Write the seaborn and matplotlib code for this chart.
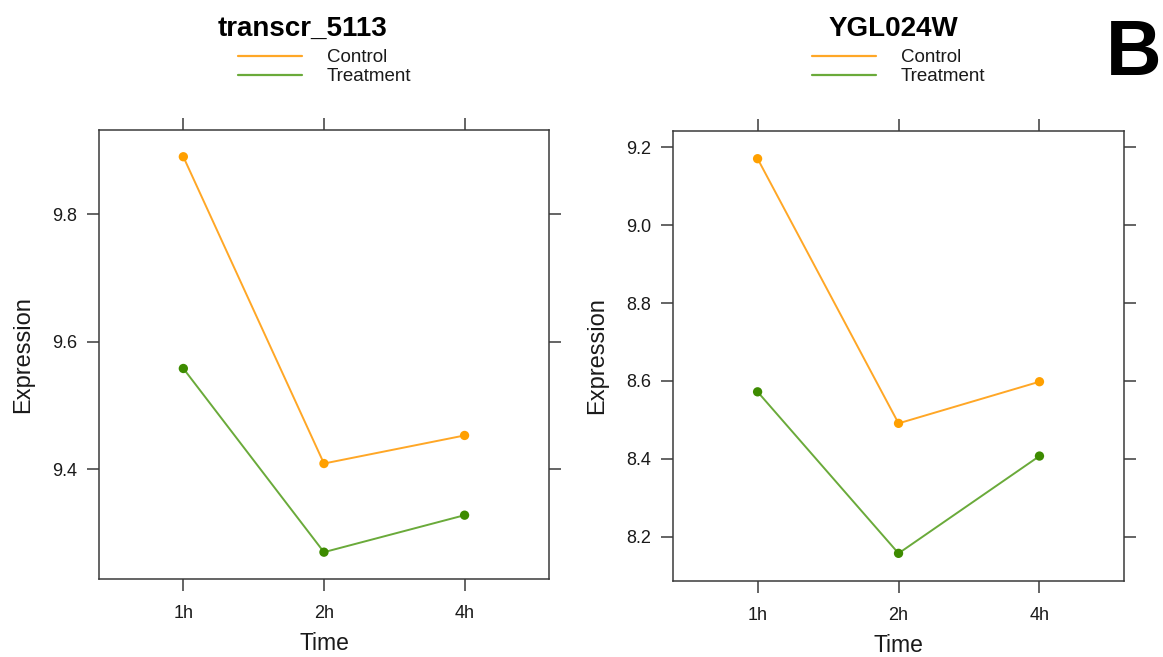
import numpy as np
import pandas as pd
import matplotlib.pyplot as plt
import seaborn as sns
from matplotlib.lines import Line2D

# ================================= #
# data
# ================================= #
times = ['1h', '2h', '4h']
groups = ['Control', 'Treatment']
genes = ['transcr_5113', 'YGL024W']

transcr_control = [9.890, 9.409, 9.453]
transcr_treatment = [9.558, 9.270, 9.328]
ygl_control = [9.171, 8.491, 8.598]
ygl_treatment = [8.572, 8.157, 8.407]

yticks_left = [9.4, 9.6, 9.8]
yticks_right = [8.2, 8.4, 8.6, 8.8, 9.0, 9.2]

rows = []
for gene, ctrl, trt in [(genes[0], transcr_control, transcr_treatment),
                        (genes[1], ygl_control, ygl_treatment)]:
    for t, c, tr in zip(times, ctrl, trt):
        rows.append({'gene': gene, 'Time': t, 'group': 'Control', 'Expression': c})
        rows.append({'gene': gene, 'Time': t, 'group': 'Treatment', 'Expression': tr})
df = pd.DataFrame(rows)

line_pal = {'Control': '#FFA726', 'Treatment': '#6AAA3A'}
point_pal = {'Control': '#FFA000', 'Treatment': '#3D8B00'}

sns.set_style('white')
plt.rcParams['font.family'] = ['Liberation Sans', 'DejaVu Sans']
edge = '#3a3a3a'
txt = '#1a1a1a'

fig = plt.figure(figsize=(11.63, 6.57), dpi=100)
ax_pos = [[0.0851, 0.1183, 0.3869, 0.6839],
          [0.5787, 0.1157, 0.3878, 0.6854]]
ylims = [(9.2275, 9.932), (8.086, 9.243)]
yticks = [yticks_left, yticks_right]
title_x = [0.2605, 0.768]
legend_x = [0.2046, 0.6982]

for i, gene in enumerate(genes):
    ax = fig.add_axes(ax_pos[i])
    d = df[df.gene == gene]
    sns.lineplot(data=d, x='Time', y='Expression', hue='group', palette=line_pal,
                 linewidth=1.4, legend=False, ax=ax)
    sns.scatterplot(data=d, x='Time', y='Expression', hue='group', palette=point_pal,
                    s=45, linewidth=0, marker='o', legend=False, ax=ax, zorder=3)
    ax.set_xlim(-0.6, 2.6)
    ax.set_ylim(*ylims[i])
    ax.set_yticks(yticks[i])
    ax.set_yticklabels(['%.1f' % v for v in yticks[i]])
    ax.tick_params(axis='both', which='both', direction='out', length=8.6,
                   width=1.1, color=edge, labelsize=13, labelcolor=txt,
                   top=True, right=True, bottom=True, left=True,
                   labeltop=False, labelright=False, pad=7)
    ax.tick_params(axis='x', pad=10)
    for s in ax.spines.values():
        s.set_color(edge)
        s.set_linewidth(1.1)
    ax.set_xlabel('Time', fontsize=16.5, labelpad=7, color=txt)
    ax.set_ylabel('Expression', fontsize=17, labelpad=13, color=txt)

    fig.text(title_x[i], 0.945, gene, ha='center', va='baseline',
             fontsize=20, fontweight='bold', color='black')

    handles = [Line2D([0], [0], color=line_pal[g], lw=1.6) for g in groups]
    fig.legend(handles, groups, loc='upper left',
               bbox_to_anchor=(legend_x[i], 0.925), frameon=False,
               fontsize=13.5, handlelength=3.4, handletextpad=1.35,
               labelspacing=0.1, borderpad=0, borderaxespad=0,
               labelcolor=txt)

fig.text(0.999, 0.886, 'B', ha='right', va='baseline', fontsize=55.5,
         fontweight='bold', color='black')

fig.savefig('out.png', dpi=100)
